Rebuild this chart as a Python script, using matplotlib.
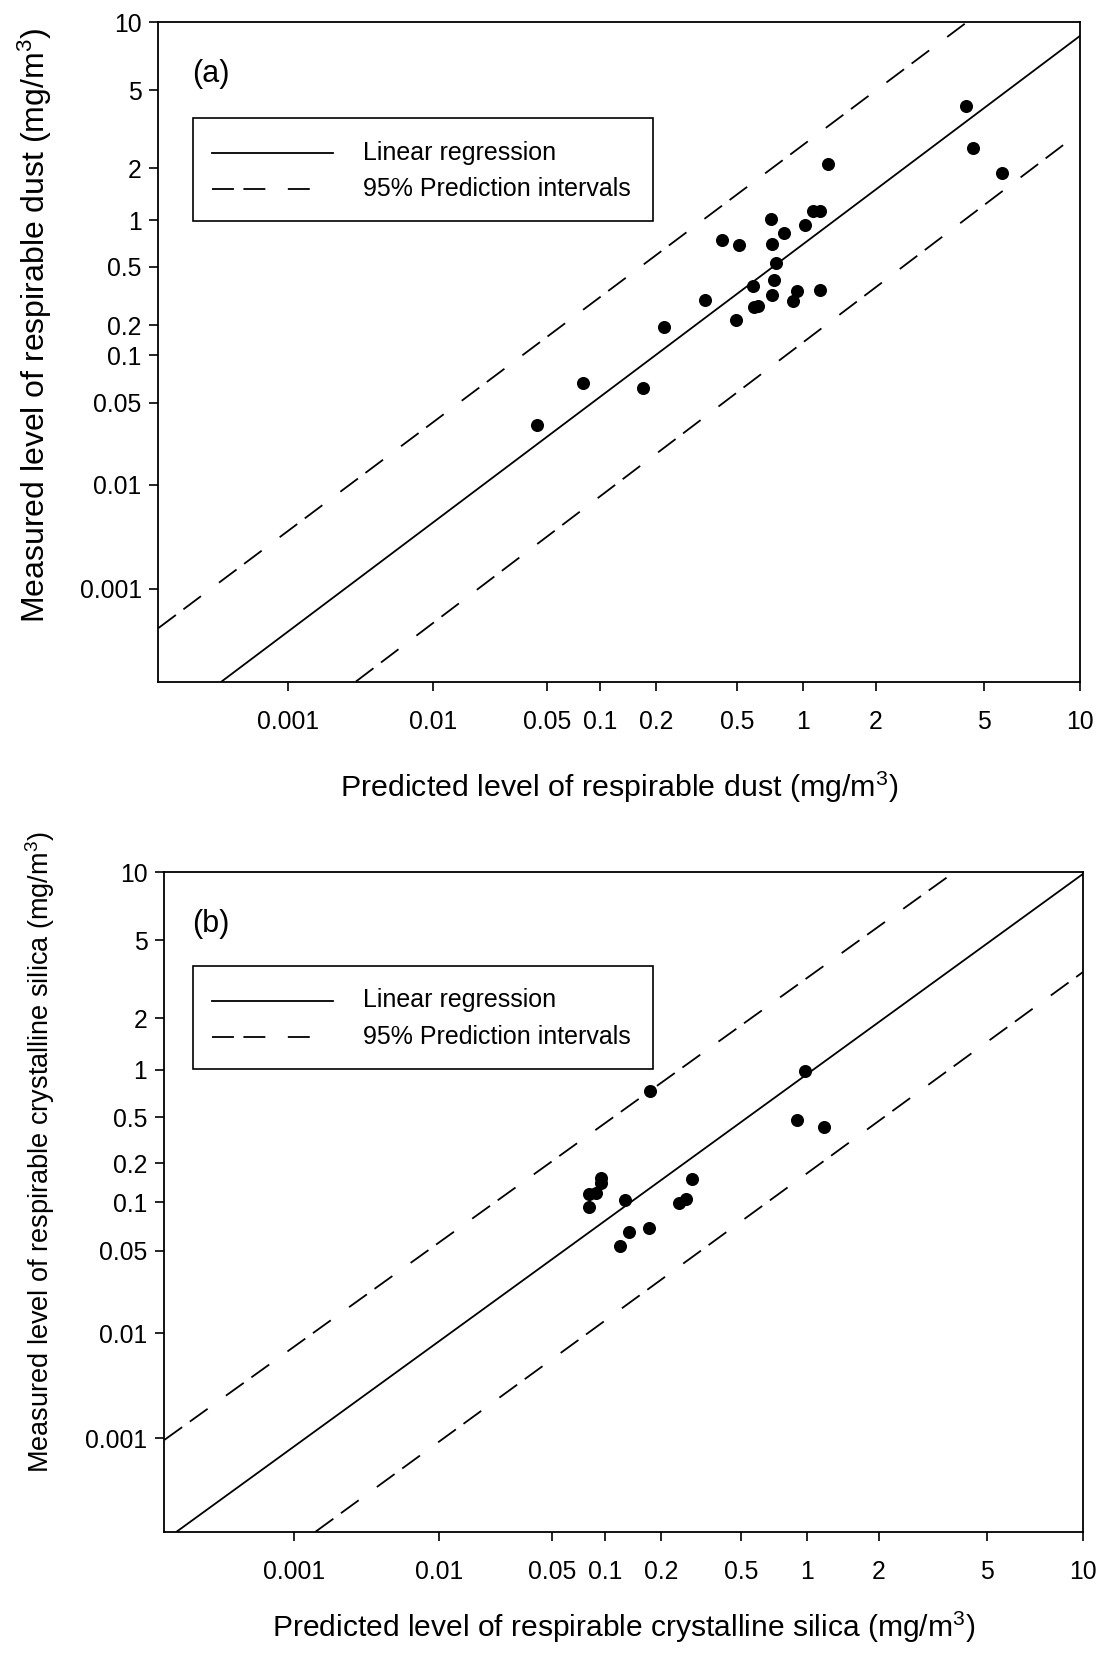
import numpy as np
import matplotlib
matplotlib.use("Agg")
import matplotlib.pyplot as plt
from matplotlib.lines import Line2D
from matplotlib.patches import Rectangle
from matplotlib.ticker import FixedLocator, FixedFormatter, NullLocator

plt.rcParams['font.family'] = ['Liberation Sans', 'DejaVu Sans']
plt.rcParams['mathtext.fontset'] = 'custom'
plt.rcParams['mathtext.rm'] = 'Liberation Sans'
plt.rcParams['mathtext.it'] = 'Liberation Sans:italic'
plt.rcParams['lines.scale_dashes'] = False

# ---------------- data ----------------
tick_values = [0.001, 0.01, 0.05, 0.1, 0.2, 0.5, 1, 2, 5, 10]
tick_labels = ['0.001', '0.01', '0.05', '0.1', '0.2', '0.5', '1', '2', '5', '10']

dust_pred = [0.043, 0.080, 0.170, 0.218, 0.350, 0.422, 0.494, 0.511, 0.595, 0.600,
             0.625, 0.716, 0.725, 0.725, 0.741, 0.754, 0.822, 0.901, 0.939, 1.022,
             1.097, 1.176, 1.176, 1.273, 4.29, 4.55, 5.68]
dust_meas = [0.0325, 0.067, 0.062, 0.192, 0.295, 0.746, 0.217, 0.693, 0.373, 0.265,
             0.272, 1.01, 0.697, 0.324, 0.408, 0.526, 0.821, 0.293, 0.341, 0.933,
             1.124, 1.124, 0.348, 2.11, 4.16, 2.55, 1.886]

silica_pred = [0.081, 0.081, 0.0885, 0.0945, 0.0945, 0.121, 0.128, 0.135, 0.172, 0.175,
               0.247, 0.266, 0.286, 0.906, 0.985, 1.18]
silica_meas = [0.115, 0.093, 0.117, 0.154, 0.141, 0.054, 0.104, 0.065, 0.069, 0.737,
               0.098, 0.105, 0.150, 0.474, 0.981, 0.41]

# regression line and 95% prediction interval end points (x, y)
dust_fit_x, dust_fit_y = [3.47e-4, 10], [1.285e-4, 8.7]
dust_up_x, dust_up_y = [1.269e-4, 4.32], [4.18e-4, 10]
dust_lo_x, dust_lo_y = [2.93e-3, 10], [1.285e-4, 3.05]

silica_fit_x, silica_fit_y = [1.545e-4, 10], [1.277e-4, 9.86]
silica_up_x, silica_up_y = [1.27e-4, 3.78], [9.6e-4, 10]
silica_lo_x, silica_lo_y = [1.41e-3, 10], [1.277e-4, 3.46]

# ---------------- axis calibration (tick position along axis, px) ----------------
A_X_POS = [130, 275, 389, 441.7, 497.7, 578.4, 644.7, 717.4, 825.7, 921.7]
A_Y_POS = [92.7, 196.7, 278.7, 326, 356, 414.3, 461, 512.7, 591, 658.7]
B_X_POS = [130, 274.7, 388, 441, 496.7, 576.7, 642.7, 715, 823, 919.3]
B_Y_POS = [93.6, 198.3, 280.7, 329.7, 368.5, 414.4, 462, 513.3, 591.2, 659.4]


def make_scale(vals, pos):
    lv = np.log10(np.asarray(vals, float))
    p = np.asarray(pos, float)
    s0 = (p[1] - p[0]) / (lv[1] - lv[0])
    s1 = (p[-1] - p[-2]) / (lv[-1] - lv[-2])

    def fwd(v):
        v = np.asarray(v, float)
        with np.errstate(all='ignore'):
            u = np.log10(np.where(v > 0, v, 1e-300))
        out = np.interp(u, lv, p)
        out = np.where(u < lv[0], p[0] + (u - lv[0]) * s0, out)
        out = np.where(u > lv[-1], p[-1] + (u - lv[-1]) * s1, out)
        return out

    def inv(q):
        q = np.asarray(q, float)
        u = np.interp(q, p, lv)
        u = np.where(q < p[0], lv[0] + (q - p[0]) / s0, u)
        u = np.where(q > p[-1], lv[-1] + (q - p[-1]) / s1, u)
        return 10 ** u

    return fwd, inv


W, H = 1102, 1655
fig = plt.figure(figsize=(W / 100, H / 100), dpi=100)
fig.patch.set_facecolor('white')

DASH = (0, (15.8, 6.8, 15.8, 16.2))
LW = 1.3


def setup_axes(rect_px, xpos, ypos):
    l, t, r, b = rect_px
    ax = fig.add_axes([l / W, 1 - b / H, (r - l) / W, (b - t) / H])
    fx, ix = make_scale(tick_values, xpos)
    fy, iy = make_scale(tick_values, ypos)
    ax.set_xscale('function', functions=(fx, ix))
    ax.set_yscale('function', functions=(fy, iy))
    ax.set_xlim(float(ix(0.0)), 10)
    ax.set_ylim(float(iy(0.0)), 10)
    for axis in (ax.xaxis, ax.yaxis):
        axis.set_major_locator(FixedLocator(tick_values))
        axis.set_major_formatter(FixedFormatter(tick_labels))
        axis.set_minor_locator(NullLocator())
    ax.tick_params(axis='both', direction='out', length=6.5, width=1.2,
                   labelsize=17.8, colors='black')
    ax.tick_params(axis='x', pad=14.0)
    ax.tick_params(axis='y', pad=5.5)
    for s in ax.spines.values():
        s.set_linewidth(1.3)
    return ax


def draw_legend(ax, rect_px, box, rows, hx, tx):
    l, t, r, b = rect_px
    w, h = r - l, b - t
    fx = lambda x: (x - l) / w
    fy = lambda y: 1 - (y - t) / h
    x0, y0, x1, y1 = box
    ax.add_patch(Rectangle((fx(x0), fy(y1)), fx(x1) - fx(x0), fy(y0) - fy(y1),
                           transform=ax.transAxes, fill=False, edgecolor='black',
                           linewidth=1.2, zorder=5))
    ax.add_line(Line2D([fx(hx[0]), fx(hx[1])], [fy(rows[0]), fy(rows[0])],
                       transform=ax.transAxes, color='black', lw=LW))
    ax.add_line(Line2D([fx(hx[0]), fx(hx[2])], [fy(rows[1]), fy(rows[1])],
                       transform=ax.transAxes, color='black', lw=LW, linestyle=DASH))
    ax.text(fx(tx), fy(rows[0]), 'Linear regression', transform=ax.transAxes,
            fontsize=18.0, va='center', ha='left')
    ax.text(fx(tx), fy(rows[1]), '95% Prediction intervals', transform=ax.transAxes,
            fontsize=18.0, va='center', ha='left')


def panel(rect_px, xpos, ypos, px, py, fit, up, lo, letter, xlabel, ylabel,
          xlab_size, ylab_size, xlab_y, ylab_x, ylab_y, legend_top):
    ax = setup_axes(rect_px, xpos, ypos)
    ax.plot(fit[0], fit[1], color='black', lw=LW)
    ax.plot(up[0], up[1], color='black', lw=LW, linestyle=DASH)
    ax.plot(lo[0], lo[1], color='black', lw=LW, linestyle=DASH)
    ax.plot(px, py, linestyle='none', marker='o', markersize=9.4,
            color='black', markeredgewidth=0)
    l, t, r, b = rect_px
    ax.text((211 - l) / (r - l), 1 - 52 / (b - t), letter, transform=ax.transAxes,
            fontsize=22, ha='center', va='center')
    draw_legend(ax, rect_px,
                (193.3, legend_top, 653.3, legend_top + 102.7),
                (legend_top + 34.5, legend_top + 71.0),
                (211.7, 332.7, 312.0), 363.3)
    ax.set_xlabel(xlabel, fontsize=xlab_size)
    ax.xaxis.label.set_va('center')
    ax.xaxis.set_label_coords(0.5, xlab_y)
    ax.set_ylabel(ylabel, fontsize=ylab_size)
    ax.yaxis.label.set_va('center')
    ax.yaxis.set_label_coords(ylab_x, ylab_y)
    return ax


rect_a = (158.3, 22.3, 1080.0, 681.5)
rect_b = (164.0, 872.3, 1083.3, 1531.7)

panel(rect_a, A_X_POS, A_Y_POS, dust_pred, dust_meas,
      (dust_fit_x, dust_fit_y), (dust_up_x, dust_up_y), (dust_lo_x, dust_lo_y),
      '(a)', 'Predicted level of respirable dust (mg/m$^3$)',
      'Measured level of respirable dust (mg/m$^3$)', 21.9, 23.0,
      -0.161, -0.134, 0.541, 118.3)

panel(rect_b, B_X_POS, B_Y_POS, silica_pred, silica_meas,
      (silica_fit_x, silica_fit_y), (silica_up_x, silica_up_y), (silica_lo_x, silica_lo_y),
      '(b)', 'Predicted level of respirable crystalline silica (mg/m$^3$)',
      'Measured level of respirable crystalline silica (mg/m$^3$)', 21.6, 19.5,
      -0.145, -0.135, 0.576, 966.0)

fig.savefig('out.png', dpi=100, facecolor='white')
